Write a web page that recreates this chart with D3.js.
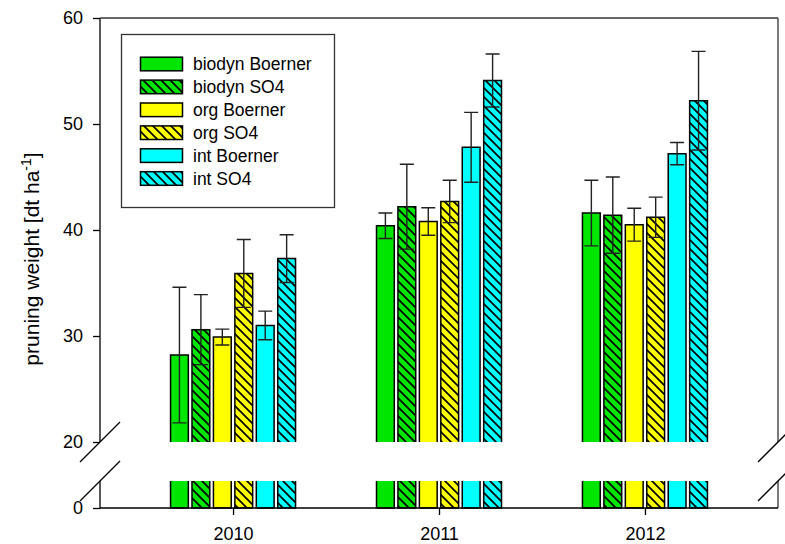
<!DOCTYPE html>
<html>
<head>
<meta charset="utf-8">
<script src="https://cdn.jsdelivr.net/npm/d3@7"></script>
<style>
  html, body { margin: 0; padding: 0; background: #fff; }
  svg { display: block; font-family: "Liberation Sans", Arial, sans-serif; }
</style>
</head>
<body>
<svg id="chart" width="785" height="544"></svg>
<script>
// ---- data ----
const years = ["2010", "2011", "2012"];
const seriesNames = ["biodyn Boerner", "biodyn SO4", "org Boerner", "org SO4", "int Boerner", "int SO4"];
const biodynBoerner = [28.2, 40.4, 41.6];
const biodynSO4     = [30.6, 42.2, 41.4];
const orgBoerner    = [29.9, 40.8, 40.5];
const orgSO4        = [35.9, 42.7, 41.2];
const intBoerner    = [31.0, 47.8, 47.2];
const intSO4        = [37.3, 54.1, 52.2];
const biodynBoernerErr = [6.4, 1.2, 3.1];
const biodynSO4Err     = [3.3, 4.0, 3.6];
const orgBoernerErr    = [0.75, 1.3, 1.55];
const orgSO4Err        = [3.2, 2.0, 1.9];
const intBoernerErr    = [1.35, 3.3, 1.05];
const intSO4Err        = [2.25, 2.5, 4.65];
const yTicksUpper = [20, 30, 40, 50, 60];
const yTicksLower = [0];

// ---- styles ----
const fills = ["#00e600", "#00e600", "#ffff00", "#ffff00", "#00ffff", "#00ffff"];
const hatched = [false, true, false, true, false, true];

const values = [biodynBoerner, biodynSO4, orgBoerner, orgSO4, intBoerner, intSO4];
const errs = [biodynBoernerErr, biodynSO4Err, orgBoernerErr, orgSO4Err, intBoernerErr, intSO4Err];

// ---- layout ----
const L = 100, R = 778, T = 18, B = 508;
const breakTop = 442, breakBottom = 481;
const lowerMax = 2.5;

const svg = d3.select("#chart");
const defs = svg.append("defs");
fills.forEach((c, i) => {
  if (!hatched[i]) return;
  const p = defs.append("pattern").attr("id", "hatch" + i)
    .attr("patternUnits", "userSpaceOnUse").attr("width", 9).attr("height", 9);
  p.append("rect").attr("width", 9).attr("height", 9).attr("fill", c);
  p.append("path").attr("d", "M0,0L9,9M-3,6L3,12M6,-3L12,3")
    .attr("stroke", "#000").attr("stroke-width", 1.7);
});
const fillOf = i => hatched[i] ? `url(#hatch${i})` : fills[i];

const x = d3.scalePoint().domain(years).range([L, R]).padding(0.646);
const xi = d3.scaleBand().domain(seriesNames).range([-62.5, 62.5]).paddingInner(0.17);
const yU = d3.scaleLinear().domain([20, 60]).range([breakTop, T]);
const yL = d3.scaleLinear().domain([0, lowerMax]).range([B, breakBottom]);

const bw = xi.bandwidth();
const g = svg.append("g");

// bars
seriesNames.forEach((name, si) => {
  years.forEach((yr, yi) => {
    const v = values[si][yi];
    const x0 = x(yr) + xi(name);
    const topY = yU(Math.min(v, 60));
    g.append("rect").attr("x", x0).attr("y", topY).attr("width", bw)
      .attr("height", yU(20) - topY).attr("fill", fillOf(si));
    g.append("path").attr("d", `M${x0},${yU(20)}V${topY}H${x0 + bw}V${yU(20)}`)
      .attr("fill", "none").attr("stroke", "#000").attr("stroke-width", 1.5);
    const lt = yL(Math.min(v, lowerMax));
    g.append("rect").attr("x", x0).attr("y", lt).attr("width", bw)
      .attr("height", yL(0) - lt).attr("fill", fillOf(si));
    g.append("path").attr("d", `M${x0},${lt}V${yL(0)}H${x0 + bw}V${lt}`)
      .attr("fill", "none").attr("stroke", "#000").attr("stroke-width", 1.5);
  });
});

// error bars
seriesNames.forEach((name, si) => {
  years.forEach((yr, yi) => {
    const v = values[si][yi], e = errs[si][yi];
    const cx = x(yr) + xi(name) + bw / 2;
    const cap = 7;
    const hi = yU(v + e), lo = yU(v - e);
    g.append("path")
      .attr("d", `M${cx},${lo}V${hi}M${cx - cap},${hi}H${cx + cap}M${cx - cap},${lo}H${cx + cap}`)
      .attr("fill", "none").attr("stroke", "#222").attr("stroke-width", 1.4);
  });
});

// axes
const ax = svg.append("g");
ax.append("line").attr("x1", L).attr("x2", L).attr("y1", T).attr("y2", breakTop).attr("stroke", "#000").attr("stroke-width", 1.3);
ax.append("line").attr("x1", L).attr("x2", L).attr("y1", breakBottom).attr("y2", B).attr("stroke", "#000").attr("stroke-width", 1.3);
ax.append("line").attr("x1", R).attr("x2", R).attr("y1", T).attr("y2", breakTop).attr("stroke", "#333").attr("stroke-width", 1.3);
ax.append("line").attr("x1", R).attr("x2", R).attr("y1", breakBottom).attr("y2", B).attr("stroke", "#333").attr("stroke-width", 1.3);
ax.append("line").attr("x1", L).attr("x2", R).attr("y1", T).attr("y2", T).attr("stroke", "#333").attr("stroke-width", 1.3);
ax.append("line").attr("x1", L).attr("x2", R).attr("y1", B).attr("y2", B).attr("stroke", "#000").attr("stroke-width", 1.3);
[L, R].forEach(xx => {
  [breakTop, breakBottom].forEach(yy => {
    ax.append("line").attr("x1", xx - 20).attr("y1", yy + 20).attr("x2", xx + 20).attr("y2", yy - 20)
      .attr("stroke", "#000").attr("stroke-width", 1.3);
  });
});

const styleAxis = sel => {
  sel.select(".domain").remove();
  sel.selectAll(".tick line").attr("stroke", "#000").attr("stroke-width", 1.3);
  sel.selectAll(".tick text").attr("font-size", 18).attr("fill", "#000")
    .attr("font-family", "'Liberation Sans', Arial, sans-serif");
};
svg.append("g").attr("transform", `translate(${L},0)`)
  .call(d3.axisLeft(yU).tickValues(yTicksUpper).tickSize(7).tickPadding(10).tickFormat(d3.format("d")))
  .call(styleAxis);
svg.append("g").attr("transform", `translate(${L},0)`)
  .call(d3.axisLeft(yL).tickValues(yTicksLower).tickSize(7).tickPadding(10).tickFormat(d3.format("d")))
  .call(styleAxis);
svg.append("g").attr("transform", `translate(0,${B})`)
  .call(d3.axisBottom(x).tickSize(7).tickPadding(12))
  .call(styleAxis);

// y title
const title = svg.append("text")
  .attr("transform", `translate(39,259) rotate(-90)`)
  .attr("text-anchor", "middle").attr("font-size", 21).attr("fill", "#000");
title.append("tspan").text("pruning weight [dt ha");
title.append("tspan").attr("font-size", 14).attr("dy", -8).text("-1");
title.append("tspan").attr("dy", 8).text("]");

// legend
const lg = svg.append("g");
lg.append("rect").attr("x", 121.5).attr("y", 34.5).attr("width", 213).attr("height", 173)
  .attr("fill", "#fff").attr("stroke", "#333").attr("stroke-width", 1.3);
const ly = d3.scalePoint().domain(seriesNames).range([64, 178.5]);
seriesNames.forEach((name, i) => {
  lg.append("rect").attr("x", 140.5).attr("y", ly(name) - 6.8).attr("width", 42).attr("height", 13.6)
    .attr("fill", fillOf(i)).attr("stroke", "#000").attr("stroke-width", 1.5);
  lg.append("text").attr("x", 193).attr("y", ly(name)).attr("dy", "0.35em")
    .attr("font-size", 17.5).attr("fill", "#000").text(name);
});
</script>
</body>
</html>
